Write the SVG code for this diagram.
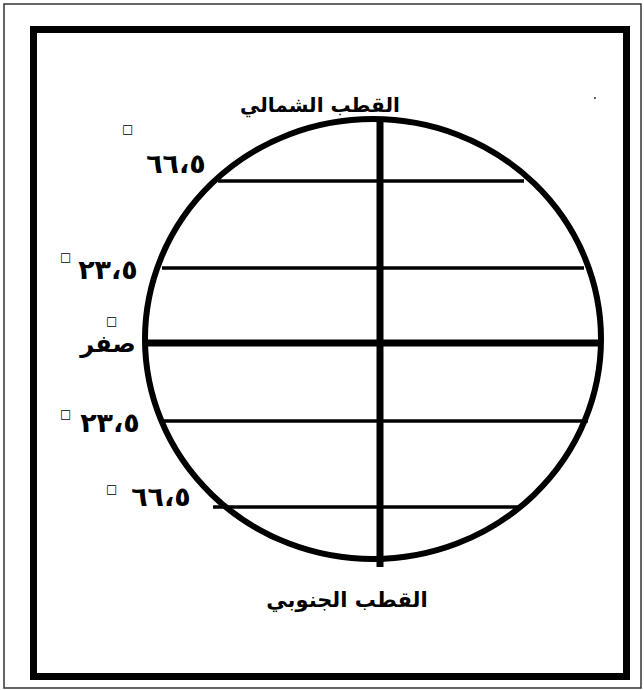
<svg xmlns="http://www.w3.org/2000/svg" width="644" height="690" viewBox="0 0 644 690">
<style>
.lbl{font-family:"DejaVu Sans",sans-serif;font-weight:bold;fill:#000;}
.num{font-family:"DejaVu Sans",sans-serif;font-weight:bold;fill:#000;font-size:27px;letter-spacing:6px;}
.deg{font-family:"DejaVu Sans",sans-serif;font-size:12px;fill:#000;}
.lat{stroke:#000;stroke-width:3.5;}
</style>
<rect x="0" y="0" width="644" height="690" fill="#fff"/>
<rect id="outer-border" x="4" y="4" width="637" height="684" fill="none" stroke="#333" stroke-width="1.5"/>
<rect id="frame" x="33.5" y="29.5" width="593" height="647" fill="none" stroke="#000" stroke-width="7"/>
<g id="globe">
<ellipse cx="373" cy="339" rx="228" ry="220" fill="none" stroke="#000" stroke-width="6"/>
</g>
<g id="connectors">
<line x1="380" y1="122" x2="380" y2="567" stroke="#000" stroke-width="7"/>
<line x1="146" y1="343" x2="600" y2="343" stroke="#000" stroke-width="7"/>
<line class="lat" x1="218" y1="181" x2="524" y2="181"/>
<line class="lat" x1="162" y1="268" x2="584" y2="268"/>
<line class="lat" x1="160" y1="421" x2="588" y2="421"/>
<line class="lat" x1="213" y1="507" x2="522" y2="507"/>
</g>
<g id="north-pole"><text class="lbl" x="320" y="112" font-size="20" text-anchor="middle" direction="rtl">القطب الشمالي</text></g>
<g id="south-pole"><text class="lbl" x="347" y="607" font-size="21" text-anchor="middle" direction="rtl">القطب الجنوبي</text></g>
<g id="lat-66n"><text class="deg" x="122" y="133">□</text><text class="num" x="176" y="173" text-anchor="middle">٦٦،٥</text></g>
<g id="lat-23n"><text class="deg" x="60" y="261">□</text><text class="num" x="108" y="279" text-anchor="middle">٢٣،٥</text></g>
<g id="lat-0"><text class="deg" x="106" y="325">□</text><text class="lbl" x="108" y="352" font-size="24" text-anchor="middle">صفر</text></g>
<g id="lat-23s"><text class="deg" x="60" y="418">□</text><text class="num" x="110" y="432" text-anchor="middle">٢٣،٥</text></g>
<g id="lat-66s"><text class="deg" x="106" y="493">□</text><text class="num" x="161" y="506" text-anchor="middle">٦٦،٥</text></g>
<circle cx="595" cy="98" r="1" fill="#333"/>
</svg>
